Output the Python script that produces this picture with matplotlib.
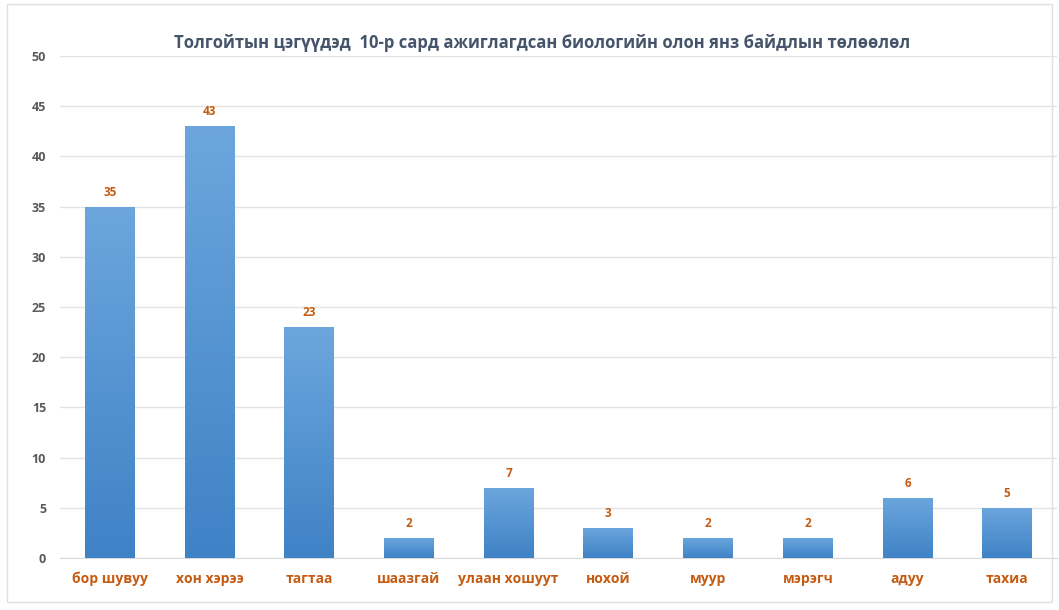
import matplotlib
matplotlib.use("Agg")
import matplotlib.pyplot as plt
import numpy as np
from matplotlib.colors import LinearSegmentedColormap
from matplotlib.patches import Rectangle

categories = ["бор шувуу", "хон хэрээ", "тагтаа", "шаазгай", "улаан хошуут",
              "нохой", "муур", "мэрэгч", "адуу", "тахиа"]
values = [35, 43, 23, 2, 7, 3, 2, 2, 6, 5]
yticks = [0, 5, 10, 15, 20, 25, 30, 35, 40, 45, 50]
title = "Толгойтын цэгүүдэд  10-р сард ажиглагдсан биологийн олон янз байдлын төлөөлөл"

plt.rcParams['font.family'] = ['Open Sans', 'DejaVu Sans']

fig = plt.figure(figsize=(10.59, 6.10), dpi=100)
fig.patch.set_facecolor("white")
ax = fig.add_axes([60/1059, 52/610, 997/1059, 502/610])

x = np.arange(len(categories))
bars = ax.bar(x, values, width=0.5, color="#5B9BD5", zorder=2)

cmap = LinearSegmentedColormap.from_list("g", ["#3F82C6", "#6CA6DD"])
grad = np.linspace(0, 1, 256).reshape(-1, 1)
for b in bars:
    x0, y0 = b.get_x(), b.get_y()
    w, h = b.get_width(), b.get_height()
    im = ax.imshow(grad, extent=[x0, x0 + w, y0, y0 + h], origin="lower",
                   cmap=cmap, aspect="auto", zorder=3)
    im.set_clip_path(b)
    b.set_facecolor("none")
    ax.text(x0 + w / 2, y0 + h + 0.8, str(int(h)), ha="center", va="bottom",
            color="#C55A11", fontsize=8.5, fontweight="bold", zorder=4)

ax.set_xlim(-0.5, len(categories) - 0.5)
ax.set_ylim(0, 50)
ax.set_yticks(yticks)
ax.set_yticklabels([str(t) for t in yticks], color="#595959", fontsize=9, fontweight="bold")
ax.set_xticks(x)
ax.set_xticklabels(categories, color="#C55A11", fontsize=10, fontweight="bold")
ax.tick_params(axis="both", length=0)
ax.tick_params(axis="y", pad=10)
ax.tick_params(axis="x", pad=10)
ax.yaxis.grid(True, color="#E3E3E3", linewidth=1, zorder=0)
ax.set_axisbelow(True)
for s in ["top", "right", "left"]:
    ax.spines[s].set_visible(False)
ax.spines["bottom"].set_color("#D9D9D9")

fig.text(542/1059, 1 - 43/610, title, ha="center", va="center",
         fontsize=12, fontweight="bold", color="#44546A")

fig.add_artist(Rectangle((7/1059, 8/610), 1 - 14/1059, 1 - 12/610,
                         transform=fig.transFigure, fill=False,
                         edgecolor="#E0E0E0", linewidth=1))

fig.savefig("out.png", dpi=100, facecolor="white")
